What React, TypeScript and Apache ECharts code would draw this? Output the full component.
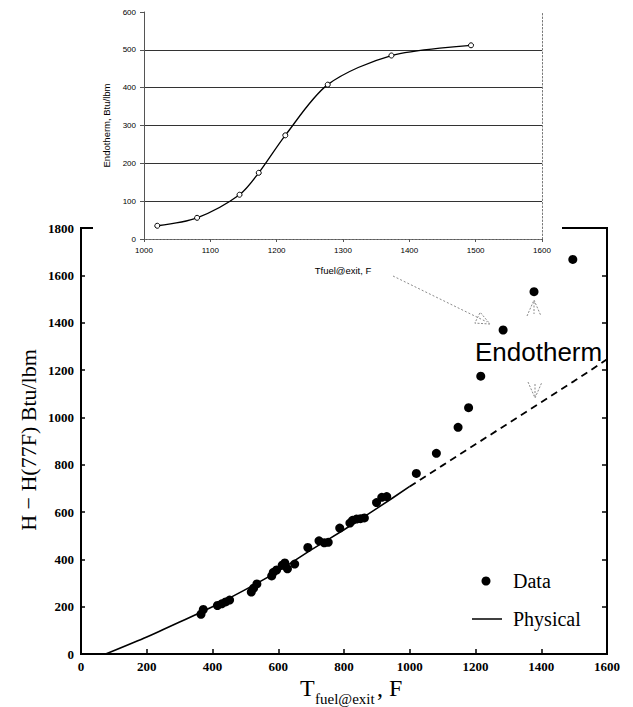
import React, { useEffect, useRef } from "react";
import * as echarts from "echarts";

// Inset: endotherm vs fuel exit temperature
const insetTemp = [1020, 1080, 1144, 1173, 1213, 1277, 1373, 1493];
const insetEndotherm = [35, 56, 117, 175, 274, 408, 485, 512];

// Main: measured enthalpy rise
const dataTemp = [
  365, 372, 415, 428, 440, 452, 518, 525, 535, 580, 585, 595, 612, 620, 628, 650,
  690, 724, 740, 752, 787, 818, 826, 838, 850, 862, 899, 915, 930, 1020, 1081,
  1147, 1179, 1216, 1284, 1378, 1496,
];
const dataEnthalpy = [
  168, 188, 205, 212, 220, 228, 262, 278, 296, 330, 345, 355, 375, 385, 360, 380,
  450, 478, 470, 472, 532, 553, 565, 570, 572, 575, 640, 662, 665, 763, 848,
  958, 1041, 1174, 1369, 1531, 1667,
];

// Physical (sensible heat only) curve
const physicalTempSolid = [75, 200, 300, 400, 500, 600, 700, 800, 900, 1000];
const physicalHSolid = [0, 72, 135, 200, 272, 350, 440, 525, 615, 708];
const physicalTempDashed = [1000, 1100, 1200, 1300, 1400, 1500, 1600];
const physicalHDashed = [708, 797, 886, 975, 1064, 1153, 1245];

const zip = (a: number[], b: number[]) => a.map((v, i) => [v, b[i]]);

const SERIF = "'Liberation Serif', 'DejaVu Serif', serif";
const SANS = "'Liberation Sans', Arial, sans-serif";
const plain = (v: number) => String(v);

export default function App() {
  const ref = useRef<HTMLDivElement>(null);
  useEffect(() => {
    if (!ref.current) return;
    const chart = echarts.init(ref.current, undefined, { renderer: "svg" });
    const mainLabel = { color: "#000", fontFamily: SERIF, fontWeight: "bold" as const, fontSize: 13, formatter: plain };
    const insetLabel = { color: "#000", fontFamily: SANS, fontSize: 8, formatter: plain };
    const dotted = { type: [1.5, 2] as any, color: "#777", width: 1 };
    const grey = "#8a8a8a";
    const option: any = {
      animation: false,
      backgroundColor: "#fff",
      grid: [
        { left: 81, top: 228, width: 526, height: 426, show: true, borderColor: "#000", borderWidth: 2, backgroundColor: "transparent" },
        { left: 144, top: 12, width: 398, height: 227, show: false },
      ],
      xAxis: [
        {
          gridIndex: 0, type: "value", min: 0, max: 1600, interval: 200,
          axisLine: { lineStyle: { color: "#000", width: 2 } },
          axisTick: { inside: true, length: 5, lineStyle: { color: "#000", width: 1.5 } },
          axisLabel: { ...mainLabel, margin: 6 },
          splitLine: { show: false },
        },
        {
          gridIndex: 1, type: "value", min: 1000, max: 1600, interval: 100, z: 10,
          axisLine: { lineStyle: { color: "#555", width: 1 } },
          axisTick: { inside: false, length: 3, lineStyle: { color: "#555" } },
          axisLabel: { ...insetLabel, margin: 7 },
          splitLine: { show: false },
          name: "Tfuel@exit, F", nameLocation: "middle", nameGap: 26,
          nameTextStyle: { color: "#000", fontFamily: SANS, fontSize: 9.5 },
        },
        {
          gridIndex: 1, type: "value", min: 1000, max: 1600, position: "top", z: 10,
          axisLine: { lineStyle: dotted }, axisTick: { show: false }, axisLabel: { show: false },
          splitLine: { show: false },
        },
      ],
      yAxis: [
        {
          gridIndex: 0, type: "value", min: 0, max: 1800, interval: 200,
          axisLine: { show: true, lineStyle: { color: "#000", width: 2 } },
          axisTick: { show: true, inside: true, length: 4, lineStyle: { color: "#000", width: 1.5 } },
          axisLabel: { ...mainLabel, margin: 7 },
          splitLine: { show: false },
        },
        {
          gridIndex: 0, type: "value", min: 0, max: 1800, interval: 200, position: "right",
          axisLine: { show: true, lineStyle: { color: "#000", width: 2 } },
          axisTick: { show: true, inside: true, length: 5, lineStyle: { color: "#000", width: 1.5 } },
          axisLabel: { show: false },
          splitLine: { show: false },
        },
        {
          gridIndex: 1, type: "value", min: 0, max: 600, interval: 100, z: 10,
          axisLine: { show: true, lineStyle: { color: "#555", width: 1 } },
          axisTick: { show: true, length: 4, lineStyle: { color: "#555" } },
          axisLabel: { ...insetLabel, margin: 8 },
          splitLine: { show: true, showMaxLine: false, lineStyle: { color: "#333", width: 1 } },
          name: "Endotherm, Btu/lbm", nameLocation: "middle", nameGap: 27,
          nameTextStyle: { color: "#000", fontFamily: SANS, fontSize: 9.5 },
        },
        {
          gridIndex: 1, type: "value", min: 0, max: 600, position: "right", z: 10,
          axisLine: { show: true, lineStyle: dotted }, axisTick: { show: false },
          axisLabel: { show: false }, splitLine: { show: false },
        },
      ],
      series: [
        {
          name: "Physical", type: "line", xAxisIndex: 0, yAxisIndex: 0,
          data: zip(physicalTempSolid, physicalHSolid), showSymbol: false, smooth: 0.2,
          lineStyle: { color: "#000", width: 1.6 }, z: 2,
        },
        {
          name: "Physical extrapolated", type: "line", xAxisIndex: 0, yAxisIndex: 0,
          data: zip(physicalTempDashed, physicalHDashed), showSymbol: false,
          lineStyle: { color: "#000", width: 1.8, type: [7, 5] }, z: 2,
        },
        {
          name: "Data", type: "scatter", xAxisIndex: 0, yAxisIndex: 0,
          data: zip(dataTemp, dataEnthalpy), symbol: "circle", symbolSize: 9,
          itemStyle: { color: "#000", opacity: 1 }, z: 3,
        },
        {
          name: "Endotherm", type: "line", xAxisIndex: 1, yAxisIndex: 2,
          data: zip(insetTemp, insetEndotherm), smooth: 0.3,
          symbol: "circle", symbolSize: 5, showSymbol: true,
          itemStyle: { color: "#fff", borderColor: "#000", borderWidth: 1 },
          lineStyle: { color: "#000", width: 1.3 }, z: 11,
        },
      ],
      graphic: [
        { type: "rect", z: 5, shape: { x: 93, y: 0, width: 469, height: 278 }, style: { fill: "#fff" } },
        // main y-axis title
        {
          type: "text", z: 20, x: 28, y: 440, rotation: Math.PI / 2,
          style: { text: "H − H(77F) Btu/lbm", font: `22px ${SERIF}`, fill: "#000", textAlign: "center", align: "center", textVerticalAlign: "middle", verticalAlign: "middle" },
        },
        // main x-axis title
        { type: "text", z: 20, x: 300, y: 688, style: { text: "T", font: `24px ${SERIF}`, fill: "#000", textAlign: "left", align: "left", textVerticalAlign: "middle", verticalAlign: "middle" } },
        { type: "text", z: 20, x: 315, y: 699, style: { text: "fuel@exit", font: `15px ${SERIF}`, fill: "#000", textAlign: "left", align: "left", textVerticalAlign: "middle", verticalAlign: "middle" } },
        { type: "text", z: 20, x: 377, y: 688, style: { text: ", F", font: `24px ${SERIF}`, fill: "#000", textAlign: "left", align: "left", textVerticalAlign: "middle", verticalAlign: "middle" } },
        // legend
        { type: "circle", z: 20, shape: { cx: 486, cy: 581, r: 4.5 }, style: { fill: "#000" } },
        { type: "text", z: 20, x: 513, y: 581, style: { text: "Data", font: `20px ${SERIF}`, fill: "#000", textAlign: "left", align: "left", textVerticalAlign: "middle", verticalAlign: "middle" } },
        { type: "line", z: 20, shape: { x1: 472, y1: 619, x2: 502, y2: 619 }, style: { stroke: "#000", lineWidth: 1.5 } },
        { type: "text", z: 20, x: 513, y: 619, style: { text: "Physical", font: `20px ${SERIF}`, fill: "#000", textAlign: "left", align: "left", textVerticalAlign: "middle", verticalAlign: "middle" } },
        // Endotherm annotation
        { type: "text", z: 20, x: 475, y: 352, style: { text: "Endotherm", font: `26px ${SANS}`, fill: "#000", textAlign: "left", align: "left", textVerticalAlign: "middle", verticalAlign: "middle" } },
        { type: "line", z: 20, shape: { x1: 393, y1: 276, x2: 487, y2: 322 }, style: { stroke: grey, lineWidth: 1, lineDash: [2, 2] } },
        { type: "polygon", z: 20, shape: { points: [[490, 324], [474.8, 323.1], [480.2, 312.3]] }, style: { fill: "none", stroke: grey, lineWidth: 1, lineDash: [2, 1.5] } },
        { type: "polyline", z: 20, shape: { points: [[527, 316], [534, 300], [541, 316]] }, style: { fill: "none", stroke: grey, lineWidth: 1, lineDash: [2, 1.5] } },
        { type: "line", z: 20, shape: { x1: 534, y1: 302, x2: 534, y2: 314 }, style: { stroke: grey, lineWidth: 1, lineDash: [2, 1.5] } },
        { type: "polyline", z: 20, shape: { points: [[528, 382], [535, 398], [542, 382]] }, style: { fill: "none", stroke: grey, lineWidth: 1, lineDash: [2, 1.5] } },
        { type: "line", z: 20, shape: { x1: 535, y1: 384, x2: 535, y2: 396 }, style: { stroke: grey, lineWidth: 1, lineDash: [2, 1.5] } },
      ],
    };
    chart.setOption(option);
    return () => chart.dispose();
  }, []);
  return (
    <div
      ref={ref}
      style={{ position: "absolute", left: 0, top: 0, width: 633, height: 707, background: "#fff" }}
    />
  );
}
